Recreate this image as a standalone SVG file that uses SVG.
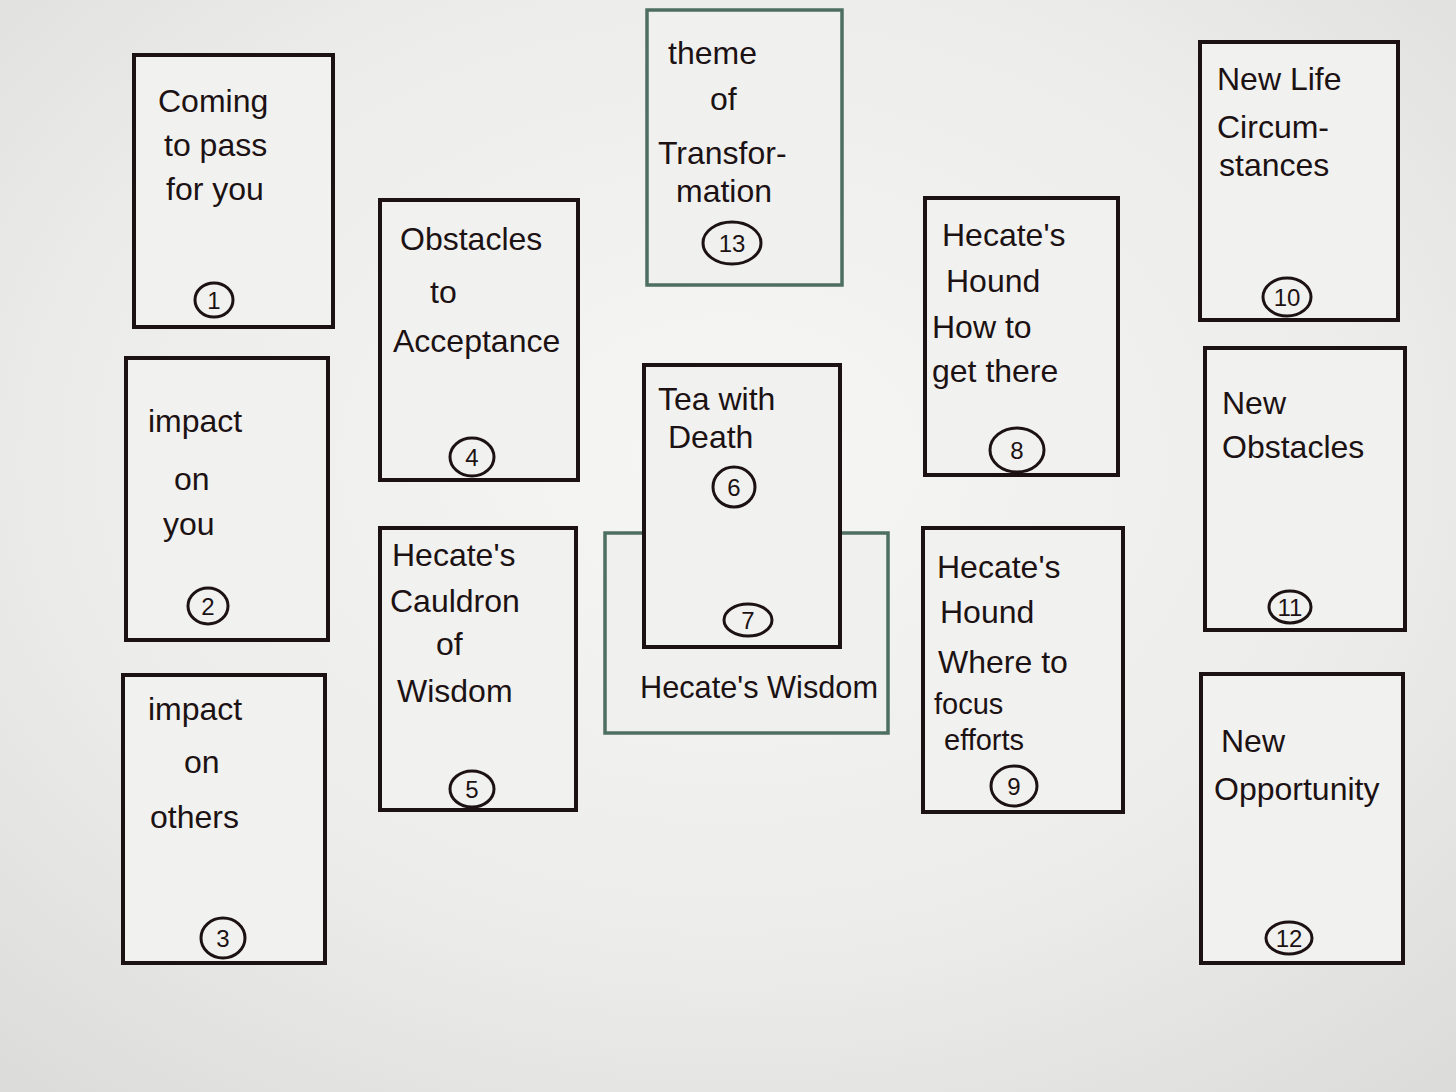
<svg xmlns="http://www.w3.org/2000/svg" width="1456" height="1092" viewBox="0 0 1456 1092">
<defs>
<radialGradient id="paper" cx="0.5" cy="0.42" r="0.75">
<stop offset="0" stop-color="#f6f6f4"/>
<stop offset="0.6" stop-color="#ececea"/>
<stop offset="1" stop-color="#dcdcda"/>
</radialGradient>
</defs>
<style>
.card{fill:#f1f1ef;stroke:#1c1214;stroke-width:4}
.green{fill:#f0f1ef;stroke:#4d6e62;stroke-width:3.5}
.t{font-family:"Liberation Sans",Arial,sans-serif;font-size:32px;fill:#1c1214}
.s{font-size:29px}
.n{fill:none;stroke:#1c1214;stroke-width:3}
.nt{font-family:"Liberation Sans",Arial,sans-serif;font-size:24px;fill:#1c1214;text-anchor:middle}
</style>
<rect x="0" y="0" width="1456" height="1092" fill="url(#paper)"/>

<g id="card13">
<rect class="green" x="647" y="10" width="195" height="275"/>
<text class="t" x="668" y="64">theme</text>
<text class="t" x="710" y="110">of</text>
<text class="t" x="658" y="164">Transfor-</text>
<text class="t" x="676" y="202">mation</text>
<ellipse class="n" cx="732" cy="243" rx="29" ry="21"/>
<text class="nt" x="732" y="252">13</text>
</g>

<g id="card7">
<rect class="green" x="605" y="533" width="283" height="200"/>
<text class="t" x="640" y="698" textLength="238" lengthAdjust="spacingAndGlyphs">Hecate's Wisdom</text>
</g>

<g id="card6">
<rect class="card" x="644" y="365" width="196" height="282"/>
<text class="t" x="658" y="410">Tea with</text>
<text class="t" x="668" y="448">Death</text>
<ellipse class="n" cx="734" cy="487" rx="21" ry="20"/>
<text class="nt" x="734" y="496">6</text>
<ellipse class="n" cx="748" cy="620" rx="24" ry="16"/>
<text class="nt" x="748" y="629">7</text>
</g>

<g id="card1">
<rect class="card" x="134" y="55" width="199" height="272"/>
<text class="t" x="158" y="112">Coming</text>
<text class="t" x="164" y="156">to pass</text>
<text class="t" x="166" y="200">for you</text>
<ellipse class="n" cx="214" cy="300" rx="19" ry="17"/>
<text class="nt" x="214" y="309">1</text>
</g>

<g id="card2">
<rect class="card" x="126" y="358" width="202" height="282"/>
<text class="t" x="148" y="432">impact</text>
<text class="t" x="174" y="490">on</text>
<text class="t" x="163" y="535">you</text>
<ellipse class="n" cx="208" cy="606" rx="20" ry="18"/>
<text class="nt" x="208" y="615">2</text>
</g>

<g id="card3">
<rect class="card" x="123" y="675" width="202" height="288"/>
<text class="t" x="148" y="720">impact</text>
<text class="t" x="184" y="773">on</text>
<text class="t" x="150" y="828">others</text>
<ellipse class="n" cx="223" cy="938" rx="22" ry="20"/>
<text class="nt" x="223" y="947">3</text>
</g>

<g id="card4">
<rect class="card" x="380" y="200" width="198" height="280"/>
<text class="t" x="400" y="250">Obstacles</text>
<text class="t" x="430" y="303">to</text>
<text class="t" x="393" y="352">Acceptance</text>
<ellipse class="n" cx="472" cy="457" rx="22" ry="19"/>
<text class="nt" x="472" y="466">4</text>
</g>

<g id="card5">
<rect class="card" x="380" y="528" width="196" height="282"/>
<text class="t" x="392" y="566">Hecate's</text>
<text class="t" x="390" y="612">Cauldron</text>
<text class="t" x="436" y="655">of</text>
<text class="t" x="397" y="702">Wisdom</text>
<ellipse class="n" cx="472" cy="789" rx="22" ry="18"/>
<text class="nt" x="472" y="798">5</text>
</g>

<g id="card8">
<rect class="card" x="925" y="198" width="193" height="277"/>
<text class="t" x="942" y="246">Hecate's</text>
<text class="t" x="946" y="292">Hound</text>
<text class="t" x="932" y="338">How to</text>
<text class="t" x="932" y="382">get there</text>
<ellipse class="n" cx="1017" cy="450" rx="27" ry="22"/>
<text class="nt" x="1017" y="459">8</text>
</g>

<g id="card9">
<rect class="card" x="923" y="528" width="200" height="284"/>
<text class="t" x="937" y="578">Hecate's</text>
<text class="t" x="940" y="623">Hound</text>
<text class="t" x="938" y="673">Where to</text>
<text class="t s" x="934" y="714">focus</text>
<text class="t s" x="944" y="750">efforts</text>
<ellipse class="n" cx="1014" cy="786" rx="23" ry="20"/>
<text class="nt" x="1014" y="795">9</text>
</g>

<g id="card10">
<rect class="card" x="1200" y="42" width="198" height="278"/>
<text class="t" x="1217" y="90">New Life</text>
<text class="t" x="1217" y="138">Circum-</text>
<text class="t" x="1219" y="176">stances</text>
<ellipse class="n" cx="1287" cy="297" rx="24" ry="19"/>
<text class="nt" x="1287" y="306">10</text>
</g>

<g id="card11">
<rect class="card" x="1205" y="348" width="200" height="282"/>
<text class="t" x="1222" y="414">New</text>
<text class="t" x="1222" y="458">Obstacles</text>
<ellipse class="n" cx="1290" cy="607" rx="21" ry="16"/>
<text class="nt" x="1290" y="616">11</text>
</g>

<g id="card12">
<rect class="card" x="1201" y="674" width="202" height="289"/>
<text class="t" x="1221" y="752">New</text>
<text class="t" x="1214" y="800">Opportunity</text>
<ellipse class="n" cx="1289" cy="938" rx="23" ry="16"/>
<text class="nt" x="1289" y="947">12</text>
</g>

<g id="connectors"></g>
</svg>
